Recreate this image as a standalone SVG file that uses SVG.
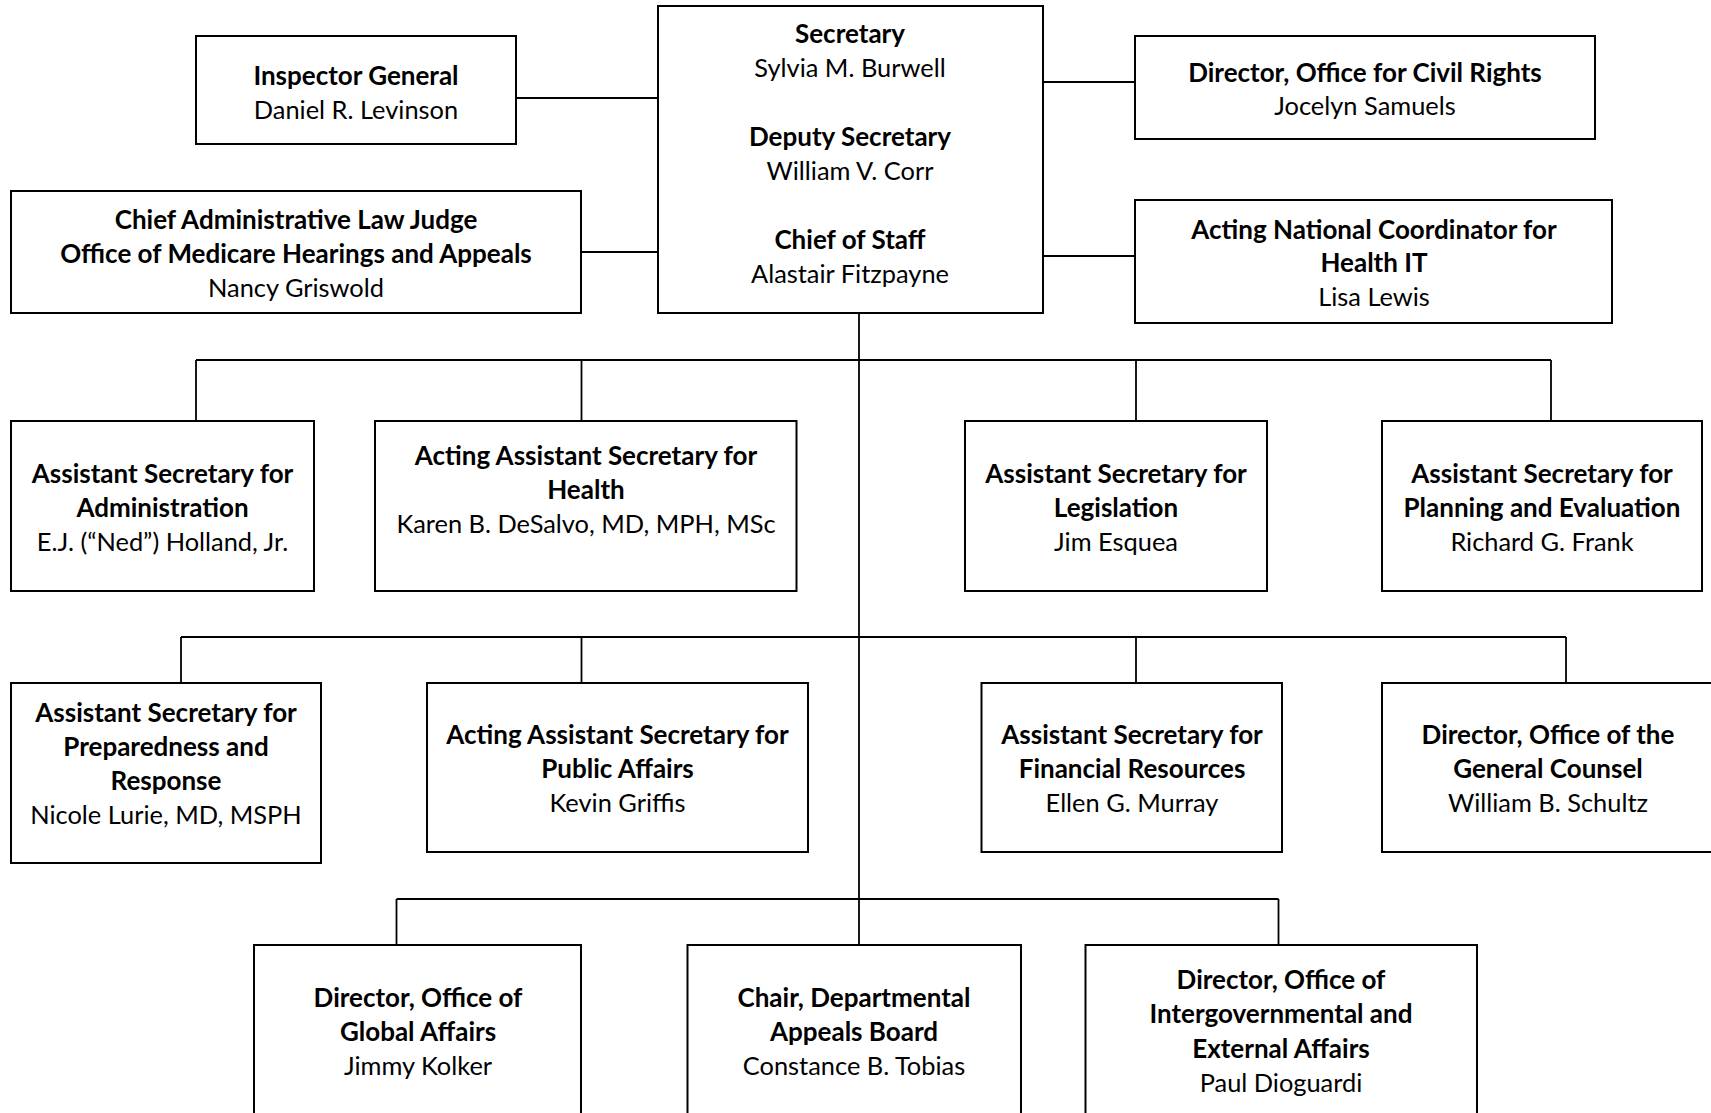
<svg xmlns="http://www.w3.org/2000/svg" width="1711" height="1113" viewBox="0 0 1711 1113">
<style>
rect{fill:#fff;stroke:#000;stroke-width:2}
.c line{stroke:#000;stroke-width:1.8}
text{font-family:Lato,"Open Sans","Liberation Sans",sans-serif;font-size:25.4px;text-anchor:middle;fill:#000}
.b{font-weight:bold;font-size:26px}
</style>
<rect x="0" y="0" width="1711" height="1113" style="stroke:none"/>
<g class="c" id="connectors">
<line x1="516" y1="98" x2="658" y2="98"/>
<line x1="581" y1="252" x2="658" y2="252"/>
<line x1="1043" y1="82" x2="1135" y2="82"/>
<line x1="1043" y1="256" x2="1135" y2="256"/>
<line x1="859" y1="313" x2="859" y2="945"/>
<line x1="196" y1="360" x2="1551" y2="360"/>
<line x1="196" y1="360" x2="196" y2="421"/>
<line x1="581.5" y1="360" x2="581.5" y2="421"/>
<line x1="1136" y1="360" x2="1136" y2="421"/>
<line x1="1551" y1="360" x2="1551" y2="421"/>
<line x1="181" y1="637" x2="1566" y2="637"/>
<line x1="181" y1="637" x2="181" y2="683"/>
<line x1="581.5" y1="637" x2="581.5" y2="683"/>
<line x1="1136" y1="637" x2="1136" y2="683"/>
<line x1="1566" y1="637" x2="1566" y2="683"/>
<line x1="396.5" y1="899" x2="1278.5" y2="899"/>
<line x1="396.5" y1="899" x2="396.5" y2="945"/>
<line x1="1278.5" y1="899" x2="1278.5" y2="945"/>
</g>
<g id="secretary">
<rect x="658" y="6" width="385" height="307"/>
<text class="b" x="850" y="43">Secretary</text>
<text x="850" y="77">Sylvia M. Burwell</text>
<text class="b" x="850" y="146">Deputy Secretary</text>
<text x="850" y="180">William V. Corr</text>
<text class="b" x="850" y="249">Chief of Staff</text>
<text x="850" y="283">Alastair Fitzpayne</text>
</g>
<g id="inspector-general">
<rect x="196" y="36" width="320" height="108"/>
<text class="b" x="356" y="85">Inspector General</text>
<text x="356" y="119">Daniel R. Levinson</text>
</g>
<g id="chief-alj">
<rect x="11" y="191" width="570" height="122"/>
<text class="b" x="296" y="229">Chief Administrative Law Judge</text>
<text class="b" x="296" y="263">Office of Medicare Hearings and Appeals</text>
<text x="296" y="297">Nancy Griswold</text>
</g>
<g id="civil-rights">
<rect x="1135" y="36" width="460" height="103"/>
<text class="b" x="1365" y="82">Director, Office for Civil Rights</text>
<text x="1365" y="115">Jocelyn Samuels</text>
</g>
<g id="health-it">
<rect x="1135" y="200" width="477" height="123"/>
<text class="b" x="1374" y="239">Acting National Coordinator for</text>
<text class="b" x="1374" y="272">Health IT</text>
<text x="1374" y="306">Lisa Lewis</text>
</g>
<g id="asa">
<rect x="11" y="421" width="303" height="170"/>
<text class="b" x="162.5" y="483">Assistant Secretary for</text>
<text class="b" x="162.5" y="517">Administration</text>
<text x="162.5" y="551">E.J. (“Ned”) Holland, Jr.</text>
</g>
<g id="ash">
<rect x="375" y="421" width="421.5" height="170"/>
<text class="b" x="586" y="465">Acting Assistant Secretary for</text>
<text class="b" x="586" y="499">Health</text>
<text x="586" y="533">Karen B. DeSalvo, MD, MPH, MSc</text>
</g>
<g id="asl">
<rect x="965" y="421" width="302" height="170"/>
<text class="b" x="1116" y="483">Assistant Secretary for</text>
<text class="b" x="1116" y="517">Legislation</text>
<text x="1116" y="551">Jim Esquea</text>
</g>
<g id="aspe">
<rect x="1382" y="421" width="320" height="170"/>
<text class="b" x="1542" y="483">Assistant Secretary for</text>
<text class="b" x="1542" y="517">Planning and Evaluation</text>
<text x="1542" y="551">Richard G. Frank</text>
</g>
<g id="aspr">
<rect x="11" y="683" width="310" height="180"/>
<text class="b" x="166" y="722">Assistant Secretary for</text>
<text class="b" x="166" y="756">Preparedness and</text>
<text class="b" x="166" y="790">Response</text>
<text x="166" y="824">Nicole Lurie, MD, MSPH</text>
</g>
<g id="aspa">
<rect x="427" y="683" width="381" height="169"/>
<text class="b" x="617.5" y="744">Acting Assistant Secretary for</text>
<text class="b" x="617.5" y="778">Public Affairs</text>
<text x="617.5" y="812">Kevin Griffis</text>
</g>
<g id="asfr">
<rect x="981.5" y="683" width="300.5" height="169"/>
<text class="b" x="1132" y="744">Assistant Secretary for</text>
<text class="b" x="1132" y="778">Financial Resources</text>
<text x="1132" y="812">Ellen G. Murray</text>
</g>
<g id="ogc">
<rect x="1382" y="683" width="340" height="169"/>
<text class="b" x="1548" y="744">Director, Office of the</text>
<text class="b" x="1548" y="778">General Counsel</text>
<text x="1548" y="812">William B. Schultz</text>
</g>
<g id="oga">
<rect x="254" y="945" width="327" height="190"/>
<text class="b" x="418" y="1007">Director, Office of</text>
<text class="b" x="418" y="1041">Global Affairs</text>
<text x="418" y="1075">Jimmy Kolker</text>
</g>
<g id="dab">
<rect x="687.5" y="945" width="333.5" height="190"/>
<text class="b" x="854" y="1007">Chair, Departmental</text>
<text class="b" x="854" y="1041">Appeals Board</text>
<text x="854" y="1075">Constance B. Tobias</text>
</g>
<g id="iea">
<rect x="1085.5" y="945" width="391.5" height="190"/>
<text class="b" x="1281" y="989">Director, Office of</text>
<text class="b" x="1281" y="1023">Intergovernmental and</text>
<text class="b" x="1281" y="1058">External Affairs</text>
<text x="1281" y="1092">Paul Dioguardi</text>
</g>
</svg>
